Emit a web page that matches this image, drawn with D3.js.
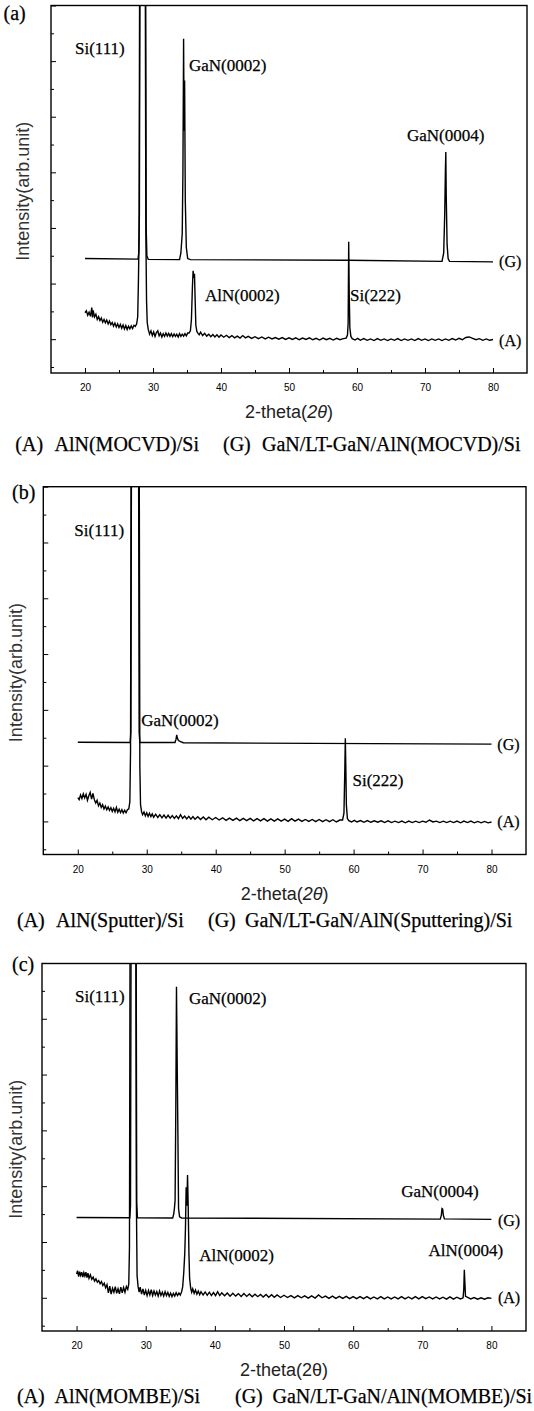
<!DOCTYPE html>
<html>
<head>
<meta charset="utf-8">
<script src="https://cdn.jsdelivr.net/npm/d3@7"></script>
<style>
  body { margin: 0; background: #fff; }
  svg { display: block; }
</style>
</head>
<body>
<svg width="534" height="1411"></svg>
<script>
// tick values (2-theta in degrees, intensity in arbitrary units)
var xMajorTicks = [20, 30, 40, 50, 60, 70, 80];
var xMinorTicks = [25, 35, 45, 55, 65, 75];
var yMajorTicks = [1, 3, 5, 7, 9, 11, 13];
var yMinorTicks = [0, 2, 4, 6, 8, 10, 12];

// (a) MOCVD buffer -- [2theta, intensity] (16 = runs off the top)
var aG = [[20, 3.9], [27.8, 3.88], [27.9, 4.1], [28.0, 5.5], [28.1, 16], [28.9, 16], [29.0, 5.0], [29.1, 4.0],
  [29.3, 3.87], [33.9, 3.86], [34.1, 4.1], [34.3, 4.8], [34.4, 7], [34.5, 11.8], [34.57, 8.5], [34.65, 10.3],
  [34.75, 6], [34.9, 4.3], [35.1, 3.9], [35.5, 3.86], [58.75, 3.84], [72.5, 3.8], [72.75, 4.1], [72.9, 5.5],
  [73.0, 7.07], [73.06, 7.73], [73.12, 6.2], [73.25, 4.4], [73.4, 3.9], [73.6, 3.8], [80, 3.78]];

var aA = [[20.0, 1.95], [20.2, 2.02], [20.4, 1.86], [20.6, 1.97], [20.8, 1.82], [21.0, 2.14], [21.1, 1.78],
  [21.2, 2.04], [21.4, 1.80], [21.6, 1.90], [21.8, 1.71], [22.0, 1.81], [22.2, 1.67], [22.4, 1.76], [22.6, 1.61],
  [22.8, 1.71], [23.0, 1.59], [23.2, 1.69], [23.4, 1.55], [23.6, 1.65], [23.8, 1.52], [24.0, 1.60], [24.2, 1.47],
  [24.4, 1.58], [24.6, 1.44], [24.8, 1.55], [25.0, 1.42], [25.2, 1.53], [25.4, 1.39], [25.6, 1.51], [25.8, 1.37],
  [26.0, 1.49], [26.2, 1.35], [26.4, 1.47], [26.6, 1.37], [26.8, 1.48], [27.0, 1.38], [27.2, 1.50], [27.4, 1.46],
  [27.6, 1.55], [27.75, 1.8], [27.85, 3.0], [27.95, 4.6], [28.05, 16], [28.85, 16], [28.95, 4.8], [29.05, 2.4],
  [29.15, 1.6], [29.3, 1.35], [29.5, 1.18], [29.7, 1.3], [29.9, 1.13], [30.1, 1.26], [30.3, 1.1], [30.5, 1.24],
  [30.7, 1.3], [30.9, 1.12], [31.1, 1.22], [31.3, 1.08], [31.5, 1.2], [31.7, 1.1], [31.9, 1.22], [32.1, 1.11],
  [32.3, 1.21], [32.5, 1.1], [32.7, 1.2], [32.9, 1.09], [33.1, 1.19], [33.3, 1.1], [33.5, 1.18], [33.7, 1.08],
  [33.9, 1.2], [34.1, 1.1], [34.3, 1.18], [34.5, 1.11], [34.7, 1.2], [34.9, 1.12], [35.1, 1.22], [35.3, 1.22],
  [35.5, 1.3], [35.65, 1.7], [35.8, 2.9], [35.9, 3.46], [36.0, 3.2], [36.1, 3.35], [36.2, 2.4], [36.3, 1.5],
  [36.45, 1.28], [36.6, 1.22], [36.8, 1.16], [37.0, 1.25], [37.3, 1.13], [37.6, 1.21], [37.9, 1.11], [38.2, 1.18],
  [38.5, 1.09], [38.8, 1.17], [39.1, 1.08], [39.4, 1.16], [39.7, 1.07], [40.0, 1.15], [40.4, 1.07], [40.8, 1.14],
  [41.2, 1.06], [41.6, 1.13], [42.0, 1.05], [42.4, 1.11], [42.8, 1.04], [43.2, 1.13], [43.6, 1.05], [44.0, 1.1],
  [44.5, 1.03], [45.0, 1.09], [45.5, 1.02], [46.0, 1.08], [46.5, 1.01], [47.0, 1.07], [47.5, 1.01], [48.0, 1.06],
  [48.5, 1.0], [49.0, 1.06], [49.5, 0.99], [50.0, 1.05], [50.5, 0.99], [51.0, 1.05], [51.5, 0.98], [52.0, 1.04],
  [52.5, 0.99], [53.0, 1.05], [53.5, 0.98], [54.0, 1.03], [54.5, 0.97], [55.0, 1.04], [55.5, 0.98], [56.0, 1.03],
  [56.5, 0.97], [57.0, 1.03], [57.5, 0.98], [58.0, 1.02], [58.4, 1.04], [58.6, 1.15], [58.7, 1.6], [58.78, 4.5],
  [58.86, 2.6], [58.95, 1.4], [59.1, 1.1], [59.3, 1.02], [59.7, 0.97], [60.1, 1.03], [60.5, 0.96], [61.0, 1.02],
  [61.5, 0.96], [62.0, 1.01], [62.5, 0.95], [63.0, 1.02], [63.5, 0.96], [64.0, 1.01], [64.5, 0.95], [65.0, 1.01],
  [65.5, 0.96], [66.0, 1.02], [66.5, 0.95], [67.0, 1.01], [67.5, 0.96], [68.0, 1.01], [68.5, 0.95], [69.0, 1.02],
  [69.5, 0.96], [70.0, 1.01], [70.5, 0.95], [71.0, 1.01], [71.5, 0.96], [72.0, 1.01], [72.5, 0.95], [73.0, 1.01],
  [73.5, 0.96], [74.0, 1.02], [74.5, 0.97], [75.0, 1.03], [75.5, 0.98], [76.0, 1.06], [76.5, 1.08], [77.0, 1.03],
  [77.5, 0.98], [78.0, 1.02], [78.5, 0.96], [79.0, 1.01], [79.5, 0.96], [80.0, 0.99]];

// (b) sputtered buffer
var bG = [[20, 3.84], [27.6, 3.83], [27.7, 4.2], [27.8, 16], [28.8, 16], [28.9, 4.2], [29.0, 3.83], [34.1, 3.83],
  [34.25, 3.95], [34.35, 4.1], [34.45, 3.98], [34.6, 3.9], [34.9, 3.86], [35.3, 3.82], [80, 3.77]];

var bA = [[20.0, 1.85], [20.2, 1.78], [20.4, 1.95], [20.6, 1.82], [20.8, 1.99], [21.0, 1.84], [21.2, 1.97],
  [21.4, 1.76], [21.6, 1.92], [21.8, 2.04], [22.0, 1.8], [22.2, 2.0], [22.4, 1.78], [22.6, 1.66], [22.8, 1.76],
  [23.0, 1.56], [23.2, 1.66], [23.4, 1.5], [23.6, 1.6], [23.8, 1.45], [24.0, 1.55], [24.2, 1.42], [24.4, 1.52],
  [24.6, 1.4], [24.8, 1.49], [25.0, 1.36], [25.2, 1.47], [25.4, 1.34], [25.6, 1.5], [25.8, 1.33], [26.0, 1.44],
  [26.2, 1.32], [26.4, 1.42], [26.6, 1.3], [26.8, 1.4], [27.0, 1.31], [27.2, 1.42], [27.4, 1.45], [27.55, 1.7],
  [27.65, 3.5], [27.75, 16], [28.9, 16], [29.0, 3.0], [29.1, 1.6], [29.25, 1.35], [29.4, 1.24], [29.6, 1.34],
  [29.8, 1.2], [30.0, 1.31], [30.2, 1.18], [30.4, 1.29], [30.6, 1.17], [30.8, 1.27], [31.0, 1.15], [31.3, 1.26],
  [31.6, 1.14], [31.9, 1.24], [32.2, 1.13], [32.5, 1.23], [32.8, 1.12], [33.1, 1.22], [33.4, 1.12], [33.7, 1.21],
  [34.0, 1.11], [34.3, 1.2], [34.6, 1.1], [34.9, 1.24], [35.2, 1.11], [35.5, 1.19], [35.8, 1.09], [36.1, 1.18],
  [36.4, 1.08], [36.7, 1.17], [37.0, 1.08], [37.4, 1.17], [37.8, 1.07], [38.2, 1.16], [38.6, 1.06], [39.0, 1.15],
  [39.5, 1.06], [40.0, 1.14], [40.5, 1.05], [41.0, 1.13], [41.5, 1.04], [42.0, 1.12], [42.5, 1.04], [43.0, 1.12],
  [43.5, 1.03], [44.0, 1.11], [44.5, 1.03], [45.0, 1.11], [45.5, 1.02], [46.0, 1.1], [46.5, 1.02], [47.0, 1.1],
  [47.5, 1.01], [48.0, 1.09], [48.5, 1.01], [49.0, 1.09], [49.5, 1.01], [50.0, 1.08], [50.5, 1.0], [51.0, 1.1],
  [51.5, 1.01], [52.0, 1.08], [52.5, 1.0], [53.0, 1.07], [53.5, 1.0], [54.0, 1.07], [54.5, 0.99], [55.0, 1.07],
  [55.5, 0.99], [56.0, 1.06], [56.5, 0.99], [57.0, 1.06], [57.5, 0.98], [58.0, 1.05], [58.4, 1.05], [58.6, 1.3],
  [58.72, 2.8], [58.8, 3.98], [58.88, 2.8], [58.95, 1.6], [59.1, 1.1], [59.3, 1.03], [59.7, 0.98], [60.1, 1.04],
  [60.5, 0.98], [61.0, 1.03], [61.5, 0.97], [62.0, 1.03], [62.5, 0.97], [63.0, 1.02], [63.5, 0.97], [64.0, 1.02],
  [64.5, 0.96], [65.0, 1.02], [65.5, 0.96], [66.0, 1.01], [66.5, 0.96], [67.0, 1.01], [67.5, 0.95], [68.0, 1.01],
  [68.5, 0.96], [69.0, 1.01], [69.5, 0.96], [70.0, 1.01], [70.5, 0.97], [71.0, 1.05], [71.5, 0.98], [72.0, 1.01],
  [72.5, 0.96], [73.0, 1.01], [73.5, 0.96], [74.0, 1.01], [74.5, 0.96], [75.0, 1.01], [75.5, 0.95], [76.0, 1.01],
  [76.5, 0.96], [77.0, 1.01], [77.5, 0.95], [78.0, 1.0], [78.5, 0.95], [79.0, 1.0], [79.5, 0.95], [80.0, 0.98]];

// (c) MOMBE buffer
var cG = [[20, 3.88], [27.7, 3.87], [27.8, 4.3], [27.9, 16], [28.6, 16], [28.7, 4.4], [28.8, 3.87], [33.9, 3.86],
  [34.05, 4.0], [34.15, 4.2], [34.25, 4.5], [34.35, 7.7], [34.45, 12.15], [34.55, 9.5], [34.65, 7.0], [34.75, 4.2],
  [34.9, 3.9], [35.2, 3.86], [72.6, 3.82], [72.75, 3.95], [72.85, 4.2], [72.95, 4.18], [73.05, 3.95], [73.2, 3.83],
  [80, 3.81]];

var cA = [[20.0, 1.85], [20.15, 1.97], [20.3, 1.76], [20.45, 1.94], [20.6, 1.8], [20.75, 1.92], [20.9, 1.74],
  [21.05, 1.9], [21.2, 1.78], [21.35, 1.92], [21.5, 1.72], [21.65, 1.88], [21.8, 1.7], [22.0, 1.82], [22.2, 1.66],
  [22.4, 1.74], [22.6, 1.6], [22.8, 1.68], [23.0, 1.56], [23.2, 1.62], [23.4, 1.5], [23.6, 1.58], [23.8, 1.44],
  [24.0, 1.52], [24.2, 1.36], [24.4, 1.47], [24.6, 1.18], [24.8, 1.42], [25.0, 1.13], [25.2, 1.34], [25.4, 1.2],
  [25.6, 1.4], [25.8, 1.16], [26.0, 1.32], [26.2, 1.14], [26.4, 1.38], [26.6, 1.18], [26.8, 1.37], [27.0, 1.2],
  [27.2, 1.4], [27.4, 1.3], [27.55, 1.5], [27.65, 2.8], [27.75, 16], [28.55, 16], [28.65, 4.5], [28.75, 1.8],
  [28.9, 1.4], [29.05, 1.2], [29.2, 1.38], [29.4, 1.13], [29.6, 1.32], [29.8, 1.1], [30.0, 1.27], [30.2, 1.08],
  [30.4, 1.26], [30.6, 1.1], [30.8, 1.29], [31.0, 1.08], [31.2, 1.24], [31.4, 1.1], [31.6, 1.22], [31.8, 1.06],
  [32.0, 1.24], [32.2, 1.08], [32.4, 1.2], [32.6, 1.06], [32.8, 1.22], [33.0, 1.08], [33.2, 1.19], [33.4, 1.05],
  [33.6, 1.17], [33.8, 1.04], [34.0, 1.16], [34.2, 1.06], [34.4, 1.18], [34.6, 1.08], [34.8, 1.17], [35.0, 1.1],
  [35.2, 1.22], [35.35, 1.4], [35.5, 1.9], [35.65, 2.6], [35.75, 3.5], [35.85, 4.96], [35.95, 4.3], [36.05, 5.4],
  [36.15, 4.2], [36.25, 2.6], [36.35, 1.7], [36.5, 1.35], [36.65, 1.2], [36.8, 1.32], [37.0, 1.16], [37.2, 1.28],
  [37.4, 1.13], [37.6, 1.24], [37.8, 1.11], [38.0, 1.22], [38.3, 1.1], [38.6, 1.21], [38.9, 1.09], [39.2, 1.2],
  [39.5, 1.08], [39.8, 1.19], [40.1, 1.08], [40.4, 1.22], [40.7, 1.08], [41.0, 1.18], [41.4, 1.07], [41.8, 1.17],
  [42.2, 1.06], [42.6, 1.16], [43.0, 1.06], [43.4, 1.15], [43.8, 1.05], [44.2, 1.15], [44.6, 1.05], [45.0, 1.14],
  [45.4, 1.04], [45.8, 1.13], [46.2, 1.04], [46.6, 1.12], [47.0, 1.03], [47.4, 1.12], [47.8, 1.02], [48.2, 1.11],
  [48.6, 1.02], [49.0, 1.1], [49.5, 1.01], [50.0, 1.09], [50.5, 1.01], [51.0, 1.08], [51.5, 1.0], [52.0, 1.08],
  [52.5, 1.0], [53.0, 1.07], [53.5, 0.99], [54.0, 1.07], [54.5, 0.99], [55.0, 1.1], [55.5, 1.0], [56.0, 1.06],
  [56.5, 0.98], [57.0, 1.06], [57.5, 0.98], [58.0, 1.05], [58.5, 0.98], [59.0, 1.05], [59.5, 0.97], [60.0, 1.04],
  [60.5, 0.97], [61.0, 1.04], [61.5, 0.97], [62.0, 1.04], [62.5, 0.96], [63.0, 1.03], [63.5, 0.96], [64.0, 1.04],
  [64.5, 0.96], [65.0, 1.03], [65.5, 0.96], [66.0, 1.03], [66.5, 0.96], [67.0, 1.04], [67.5, 0.96], [68.0, 1.03],
  [68.5, 0.96], [69.0, 1.04], [69.5, 0.96], [70.0, 1.04], [70.5, 0.97], [71.0, 1.03], [71.5, 0.96], [72.0, 1.03],
  [72.5, 0.96], [73.0, 1.02], [73.5, 0.95], [74.0, 1.03], [74.5, 0.95], [75.0, 1.02], [75.5, 0.96], [75.9, 1.0],
  [76.0, 1.3], [76.08, 2.0], [76.15, 1.6], [76.25, 1.05], [76.5, 1.02], [77.0, 0.96], [77.5, 1.01], [78.0, 0.95],
  [78.5, 1.0], [79.0, 0.95], [79.5, 1.0], [80.0, 0.98]];

// peak names and captions
var aPeaks = ["Si(111)", "GaN(0002)", "GaN(0004)", "AlN(0002)", "Si(222)"];
var bPeaks = ["Si(111)", "GaN(0002)", "Si(222)"];
var cPeaks = ["Si(111)", "GaN(0002)", "GaN(0004)", "AlN(0002)", "AlN(0004)"];
var curveNames = ["(G)", "(A)"];
var aCaption = ["(A)", "AlN(MOCVD)/Si", "(G)", "GaN/LT-GaN/AlN(MOCVD)/Si"];
var bCaption = ["(A)", "AlN(Sputter)/Si", "(G)", "GaN/LT-GaN/AlN(Sputtering)/Si"];
var cCaption = ["(A)", "AlN(MOMBE)/Si", "(G)", "GaN/LT-GaN/AlN(MOMBE)/Si"];

var serif = "'Liberation Serif', 'Times New Roman', serif",
    sans = "'Liberation Sans', Arial, sans-serif";

// layout of the three stacked panels
var panels = [
  { id: "a", letter: "(a)", letterX: 3.5, letterY: 20, x0: 51, x1: 527, y0: 5.5, y1: 373, yDomain: [-0.216, 13.0],
    series: [aG, aA], peaks: aPeaks, caption: aCaption, italic: true,
    peakPos: [[18.53, 11.26], [35.29, 10.65], [67.35, 8.13], [37.65, 2.37], [58.97, 2.37]],
    namePos: [[80.9, 3.58], [80.9, 0.76]], titleX: 22.5, captionX: [15.3, 54.5, 223, 262], captionY: 451 },
  { id: "b", letter: "(b)", letterX: 12, letterY: 499, x0: 43.3, x1: 526, y0: 486.7, y1: 854.5, yDomain: [-0.186, 13.0],
    series: [bG, bA], peaks: bPeaks, caption: bCaption, italic: true,
    peakPos: [[19.5, 11.23], [29.2, 4.42], [59.84, 2.27]],
    namePos: [[80.84, 3.56], [80.84, 0.8]], titleX: 15.3, captionX: [17, 56, 208, 245], captionY: 927 },
  { id: "c", letter: "(c)", letterX: 12, letterY: 971, x0: 42, x1: 526, y0: 963.5, y1: 1331, yDomain: [-0.19, 12.98],
    series: [cG, cA], peaks: cPeaks, caption: cCaption, italic: false,
    peakPos: [[19.77, 11.6], [36.26, 11.54], [66.95, 4.63], [37.75, 2.31], [70.9, 2.49]],
    namePos: [[80.95, 3.56], [80.95, 0.81]], titleX: 15.3, captionX: [17, 54.5, 235, 272.5], captionY: 1403 }
];

var svg = d3.select("svg");

panels.forEach(drawPanel);

function drawPanel(p) {
  var x = d3.scaleLinear().domain([15, 85]).range([p.x0, p.x1]);
  var y = d3.scaleLinear().domain(p.yDomain).range([p.y1, p.y0]);
  var g = svg.append("g");

  // the Si(111) peaks are off scale, so clip the traces to the frame
  g.append("clipPath").attr("id", "clip-" + p.id)
    .append("rect")
    .attr("x", p.x0).attr("y", p.y0)
    .attr("width", p.x1 - p.x0).attr("height", p.y1 - p.y0);

  var line = d3.line()
    .x(function (d) { return x(d[0]); })
    .y(function (d) { return y(d[1]); });

  g.selectAll(".trace")
    .data(p.series)
    .enter().append("path")
    .attr("class", "trace")
    .attr("clip-path", "url(#clip-" + p.id + ")")
    .attr("d", line)
    .attr("fill", "none")
    .attr("stroke", "#000")
    .attr("stroke-width", 1.4)
    .attr("stroke-linejoin", "miter");

  // bottom axis, ticks pointing inwards
  g.append("g")
    .attr("transform", "translate(0," + p.y1 + ")")
    .attr("font-family", sans).attr("font-size", 13)
    .call(d3.axisBottom(x).tickValues(xMajorTicks).tickSize(-5).tickPadding(11).tickFormat(d3.format("d")))
    .call(function (a) { a.select(".domain").remove(); });

  g.append("g")
    .attr("transform", "translate(0," + p.y1 + ")")
    .call(d3.axisBottom(x).tickValues(xMinorTicks).tickSize(-3).tickFormat(""))
    .call(function (a) { a.select(".domain").remove(); });

  // left axis has ticks only
  g.append("g")
    .attr("transform", "translate(" + p.x0 + ",0)")
    .call(d3.axisLeft(y).tickValues(yMajorTicks).tickSize(-5).tickFormat(""))
    .call(function (a) { a.select(".domain").remove(); });

  g.append("g")
    .attr("transform", "translate(" + p.x0 + ",0)")
    .call(d3.axisLeft(y).tickValues(yMinorTicks).tickSize(-3).tickFormat(""))
    .call(function (a) { a.select(".domain").remove(); });

  g.append("rect")
    .attr("x", p.x0).attr("y", p.y0)
    .attr("width", p.x1 - p.x0).attr("height", p.y1 - p.y0)
    .attr("fill", "none").attr("stroke", "#000").attr("stroke-width", 1.4);

  // peak labels
  g.selectAll(".peak")
    .data(p.peaks)
    .enter().append("text")
    .attr("class", "peak")
    .attr("x", function (d, i) { return x(p.peakPos[i][0]); })
    .attr("y", function (d, i) { return y(p.peakPos[i][1]); })
    .attr("font-family", serif).attr("font-size", 17)
    .attr("stroke", "#000").attr("stroke-width", 0.25)
    .text(function (d) { return d; });

  // (G) / (A) at the end of each trace
  g.selectAll(".name")
    .data(curveNames)
    .enter().append("text")
    .attr("class", "name")
    .attr("x", function (d, i) { return x(p.namePos[i][0]); })
    .attr("y", function (d, i) { return y(p.namePos[i][1]); })
    .attr("font-family", serif).attr("font-size", 16)
    .attr("stroke", "#000").attr("stroke-width", 0.25)
    .text(function (d) { return d; });

  // axis titles
  var xt = g.append("text")
    .attr("x", x(50)).attr("y", p.y1 + 45)
    .attr("text-anchor", "middle")
    .attr("font-family", sans).attr("font-size", 18).attr("fill", "#222")
    .text("2-theta(");
  xt.append("tspan").attr("font-style", p.italic ? "italic" : "normal").text("2θ");
  xt.append("tspan").text(")");

  g.append("text")
    .attr("transform", "translate(" + p.titleX + "," + ((p.y0 + p.y1) / 2 + 2) + ") rotate(-90)")
    .attr("text-anchor", "middle").attr("dy", "0.35em")
    .attr("font-family", sans).attr("font-size", 18).attr("fill", "#333")
    .text("Intensity(arb.unit)");

  // panel letter and sample caption
  g.append("text")
    .attr("x", p.letterX).attr("y", p.letterY)
    .attr("font-family", serif).attr("font-size", 20)
    .attr("stroke", "#000").attr("stroke-width", 0.25)
    .text(p.letter);

  g.selectAll(".cap")
    .data(p.caption)
    .enter().append("text")
    .attr("class", "cap")
    .attr("x", function (d, i) { return p.captionX[i]; })
    .attr("y", p.captionY)
    .attr("font-family", serif).attr("font-size", 20)
    .attr("stroke", "#000").attr("stroke-width", 0.25)
    .text(function (d) { return d; });
}
</script>
</body>
</html>
